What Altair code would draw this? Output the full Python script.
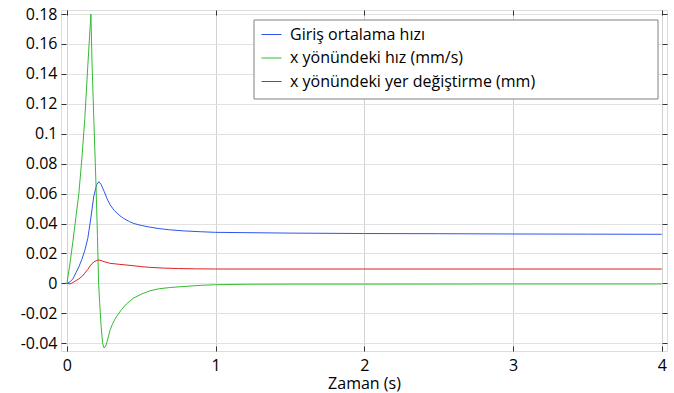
import altair as alt
import pandas as pd

series_names = ["Giriş ortalama hızı", "x yönündeki hız (mm/s)", "x yönündeki yer değiştirme (mm)"]
series_colors = ["#2f55f0", "#33bb33", "#dd2222"]

blue_t = [0, 0.02, 0.04, 0.06, 0.08, 0.10, 0.12, 0.14, 0.16, 0.18, 0.20, 0.215, 0.23, 0.25, 0.27,
          0.29, 0.32, 0.356, 0.38, 0.42, 0.45, 0.5, 0.557, 0.62, 0.69, 0.78, 0.9, 1.0, 1.5, 2.0,
          2.5, 3.0, 3.5, 4.0]
blue_v = [0, 0.001, 0.003, 0.007, 0.011, 0.016, 0.022, 0.030, 0.043, 0.058, 0.066, 0.068, 0.066,
          0.0615, 0.0565, 0.0525, 0.0485, 0.0452, 0.0435, 0.0413, 0.0400, 0.0387, 0.0376, 0.0366,
          0.0358, 0.0351, 0.0345, 0.0341, 0.0336, 0.0333, 0.0332, 0.0330, 0.0329, 0.0328]

green_t = [0, 0.02, 0.04, 0.06, 0.08, 0.10, 0.12, 0.14, 0.161, 0.168, 0.18, 0.195, 0.205, 0.213,
           0.22, 0.23, 0.24, 0.25, 0.26, 0.27, 0.289, 0.305, 0.322, 0.345, 0.367, 0.4, 0.445,
           0.5, 0.557, 0.62, 0.69, 0.8, 0.9, 1.0, 1.2, 1.5, 2.0, 3.0, 4.0]
green_v = [0, 0.013, 0.028, 0.044, 0.060, 0.083, 0.110, 0.145, 0.180, 0.150, 0.112, 0.067,
           0.032, 0.0, -0.013, -0.029, -0.040, -0.0432, -0.042, -0.039, -0.0315, -0.0275,
           -0.024, -0.0205, -0.0175, -0.0138, -0.0100, -0.0072, -0.0050, -0.0036, -0.0028,
           -0.0020, -0.0013, -0.0009, -0.0006, -0.0005, -0.0005, -0.0004, -0.0004]

red_t = [0, 0.02, 0.04, 0.06, 0.08, 0.10, 0.12, 0.14, 0.16, 0.18, 0.20, 0.213, 0.23, 0.25, 0.29,
         0.356, 0.445, 0.5, 0.557, 0.65, 0.75, 0.87, 1.0, 2.0, 3.0, 4.0]
red_v = [0, -0.0004, 0.0005, 0.0018, 0.003, 0.0045, 0.0068, 0.0093, 0.0122, 0.0143, 0.0153,
         0.0156, 0.0152, 0.0145, 0.0134, 0.0127, 0.0118, 0.0112, 0.0107, 0.0102, 0.0099,
         0.0097, 0.0096, 0.0096, 0.0096, 0.0096]

x_ticks = [0, 1, 2, 3, 4]
y_ticks = [-0.04, -0.02, 0, 0.02, 0.04, 0.06, 0.08, 0.1, 0.12, 0.14, 0.16, 0.18]
x_title = "Zaman (s)"

rows = []
for name, ts, vs in zip(series_names, [blue_t, green_t, red_t], [blue_v, green_v, red_v]):
    for t, v in zip(ts, vs):
        rows.append({"t": t, "v": v, "s": name})
df = pd.DataFrame(rows)

FONT = "Open Sans"
ylabel_expr = "replace(format(datum.value, '~g'), '\u2212', '-')"

xscale = alt.Scale(domain=[-0.04, 4.035], nice=False, zero=False)
yscale = alt.Scale(domain=[-0.0452, 0.1827], nice=False, zero=False)

main = alt.Chart(df).mark_line(strokeWidth=1, clip=True).encode(
    x=alt.X("t:Q", scale=xscale, axis=alt.Axis(
        values=x_ticks, title=x_title, offset=-5, tickSize=5, domain=False,
        labelPadding=6, titlePadding=2, grid=True, gridColor="#d2d2d2",
        tickColor="#333333", labelFontSize=16, titleFontSize=16, labelFont=FONT,
        titleFont=FONT, titleFontWeight="normal", labelColor="black", titleColor="black")),
    y=alt.Y("v:Q", scale=yscale, axis=alt.Axis(
        values=y_ticks, title=None, offset=-5, tickSize=5, domain=False,
        labelPadding=4, grid=True, gridColor="#e2e2e2", tickColor="#333333",
        labelFontSize=16, labelFont=FONT, labelColor="black", labelExpr=ylabel_expr)),
    color=alt.Color("s:N", scale=alt.Scale(domain=series_names, range=series_colors),
                    legend=alt.Legend(
                        title=None, orient="none", legendX=200, legendY=14,
                        symbolType="stroke", symbolSize=400, symbolStrokeWidth=1,
                        labelOffset=8, labelFontSize=16, labelFont=FONT, labelColor="black",
                        labelLimit=1000, padding=0, rowPadding=4.5)),
)

legend_box = alt.Chart(pd.DataFrame({"k": [0]})).mark_rect(
    fill="white", stroke="#808080", strokeWidth=1
).encode(x=alt.value(193), x2=alt.value(597), y=alt.value(10), y2=alt.value(89))

frame = alt.Chart(df).mark_line(opacity=0).encode(
    x=alt.X("t:Q", scale=xscale, axis=alt.Axis(
        orient="top", values=x_ticks, labels=False, title=None, offset=-5, tickSize=5,
        domain=False, grid=False, tickColor="#333333")),
    y=alt.Y("v:Q", scale=yscale, axis=alt.Axis(
        orient="right", values=y_ticks, labels=False, title=None, offset=-5, tickSize=5,
        domain=False, grid=False, tickColor="#333333")),
    detail="s:N",
)

chart = alt.layer(main, legend_box, frame).resolve_scale(x="independent", y="independent").properties(
    width=606, height=341,
    autosize=alt.AutoSizeParams(type="none"),
    padding={"left": 61, "top": 10, "right": 7, "bottom": 42},
).configure_view(stroke="#404040", strokeWidth=1).configure(background="white")

chart.save("out.html", embed_options={"renderer": "svg", "actions": False})
